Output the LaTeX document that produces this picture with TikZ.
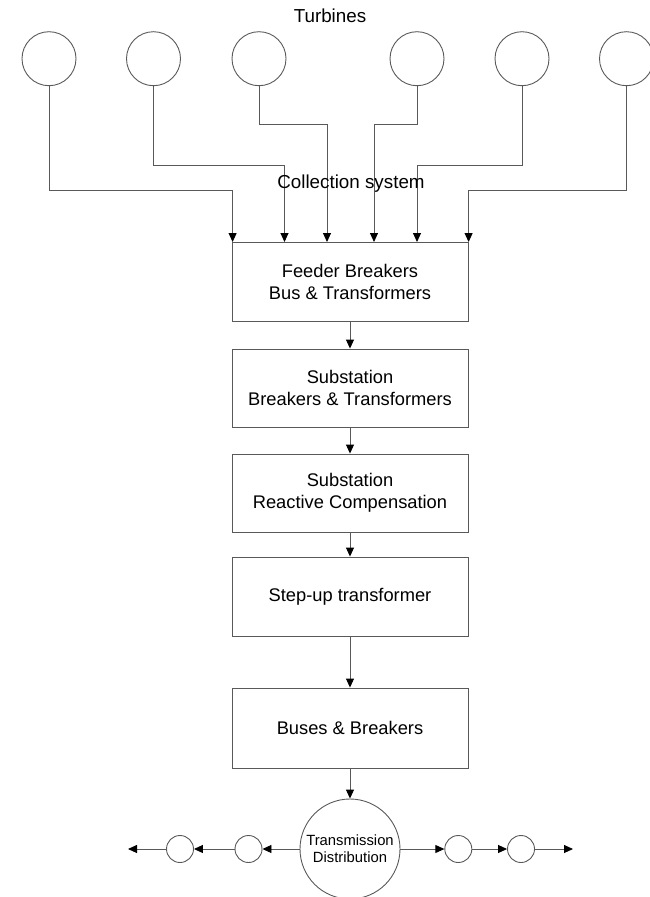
\documentclass[tikz,border=0pt]{standalone}
\usepackage{fontspec}
\setmainfont{Liberation Sans}
\usetikzlibrary{arrows.meta}
\begin{document}
\begin{tikzpicture}[x=1pt,y=-1pt,
  lineclr/.style={draw=black!65, line width=0.9pt},
  arr/.style={lineclr, -{Triangle[length=9pt,width=8pt,color=black]}},
  turb/.style={circle, lineclr, minimum size=54pt, inner sep=0pt},
  stage/.style={rectangle, lineclr, minimum width=236pt, align=center,
     font=\fontsize{18.3}{22.3}\selectfont, inner sep=0pt},
  small/.style={circle, lineclr, minimum size=27pt, inner sep=0pt},
  lbl/.style={font=\fontsize{18.8}{22}\selectfont, inner sep=0pt}
]
\useasboundingbox (0,0) rectangle (650,897);
\node[lbl] (title) at (330,16) {Turbines};
\node[turb] (t1) at (49,58.7) {};
\node[turb] (t2) at (153.5,58.7) {};
\node[turb] (t3) at (259,58.7) {};
\node[turb] (t4) at (417,58.7) {};
\node[turb] (t5) at (522,58.7) {};
\node[turb] (t6) at (626.5,58.7) {};

\node[stage, minimum height=78.5pt] (b1) at (350,281.7) {Feeder Breakers\\Bus \& Transformers};
\node[stage, minimum height=78pt] (b2) at (350,388) {Substation\\Breakers \& Transformers};
\node[stage, minimum height=78pt] (b3) at (350,493) {Substation\\Reactive Compensation};
\node[stage, minimum height=79pt] (b4) at (350,596.5) {Step-up transformer};
\node[stage, minimum height=80pt] (b5) at (350,728) {Buses \& Breakers};

\coordinate (j1) at (232.6,190);
\coordinate (j2) at (284.5,165);
\coordinate (j3) at (327,124);
\coordinate (j4) at (374,124);
\coordinate (j5) at (417,165);
\coordinate (j6) at (468.6,190);
\foreach \i in {1,...,6} {
  \draw[arr] (t\i.south) |- (j\i) -- (j\i |- b1.north);
}
\node[lbl] (coll) at (351,184) {Collection system};

\draw[arr] (b1.south) -- (b2.north);
\draw[arr] (b2.south) -- (b3.north);
\draw[arr] (b3.south) -- (b4.north);
\draw[arr] (b4.south) -- (b5.north);

\node[circle, lineclr, minimum size=100pt, inner sep=0pt, align=center,
  font=\fontsize{14.8}{17.3}\selectfont] (td) at (350,849) {Transmission\\Distribution};
\draw[arr] (b5.south) -- (td.north);

\node[small] (s1) at (180,849) {};
\node[small] (s2) at (248.5,849) {};
\node[small] (s3) at (458.3,849) {};
\node[small] (s4) at (521,849) {};
\coordinate (eL) at (128,849);
\coordinate (eR) at (573,849);
\draw[arr] (td.west) -- (s2.east);
\draw[arr] (s2.west) -- (s1.east);
\draw[arr] (s1.west) -- (eL);
\draw[arr] (td.east) -- (s3.west);
\draw[arr] (s3.east) -- (s4.west);
\draw[arr] (s4.east) -- (eR);
\end{tikzpicture}
\end{document}
